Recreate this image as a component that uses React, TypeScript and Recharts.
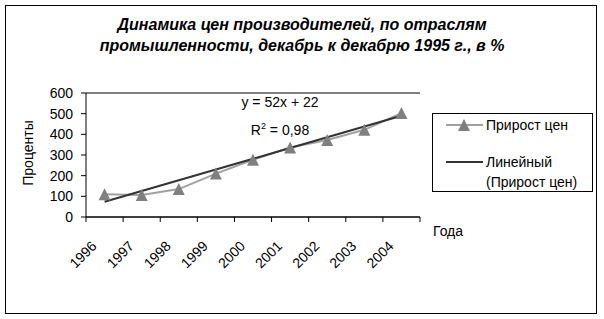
import React from 'react';
import { LineChart, Line, XAxis, YAxis, CartesianGrid } from 'recharts';

const years = ['1996', '1997', '1998', '1999', '2000', '2001', '2002', '2003', '2004'];
const priceGrowth = [110, 107, 135, 210, 277, 336, 373, 422, 503];
const linearTrend = [74, 126, 178, 230, 282, 334, 386, 438, 490];
const yTicks = [0, 100, 200, 300, 400, 500, 600];

const seriesName = 'Прирост цен';
const trendName = ['Линейный', '(Прирост цен)'];

const data = years.map((year, i) => ({
  year,
  growth: priceGrowth[i],
  trend: linearTrend[i],
}));

const FONT = '"Liberation Sans", Arial, sans-serif';
const PLOT_LEFT = 86;
const PLOT_RIGHT = 420;
const BAND = (PLOT_RIGHT - PLOT_LEFT) / years.length;

const Triangle = (props: any) => {
  const { cx, cy } = props;
  if (cx == null || cy == null) return null;
  return (
    <polygon
      points={`${cx},${cy - 6} ${cx + 6},${cy + 6} ${cx - 6},${cy + 6}`}
      fill="#808080"
      stroke="none"
    />
  );
};

const YearTick = (props: any) => {
  const { x, y, payload, index } = props;
  const left = x - BAND / 2;
  const last = index === years.length - 1;
  const ax = x - 7;
  const ay = y + 30;
  return (
    <g>
      <line x1={left} y1={y} x2={left} y2={y + 5} stroke="#000" />
      {last && <line x1={x + BAND / 2} y1={y} x2={x + BAND / 2} y2={y + 5} stroke="#000" />}
      <text
        x={ax}
        y={ay}
        textAnchor="end"
        fontSize={14}
        fontFamily={FONT}
        fill="#000"
        transform={`rotate(-45, ${ax}, ${ay})`}
      >
        {payload.value}
      </text>
    </g>
  );
};

const App: React.FC = () => {
  return (
    <div style={{ position: 'absolute', left: 0, top: 0, width: 604, height: 319, background: '#fff', fontFamily: FONT }}>
      <div
        style={{
          position: 'absolute',
          left: 5,
          top: 5,
          width: 590,
          height: 307,
          border: '1px solid #000',
        }}
      />
      <div
        style={{
          position: 'absolute',
          left: 0,
          top: 14,
          width: 604,
          textAlign: 'center',
          fontSize: 16,
          fontWeight: 'bold',
          fontStyle: 'italic',
          lineHeight: '21px',
        }}
      >
        Динамика цен производителей, по отраслям
        <br />
        промышленности, декабрь к декабрю 1995 г., в %
      </div>

      <div style={{ position: 'absolute', left: 0, top: 0 }}>
        <LineChart width={604} height={319} data={data} margin={{ top: 93, right: 184, bottom: 0, left: 0 }}>
          <CartesianGrid horizontal vertical={false} stroke="#000" />
          <XAxis
            dataKey="year"
            scale="band"
            height={102}
            tickLine={false}
            tickSize={0}
            tickMargin={0}
            axisLine={{ stroke: '#000' }}
            tick={<YearTick />}
            interval={0}
          />
          <YAxis
            yAxisId="left"
            width={86}
            domain={[0, 600]}
            ticks={yTicks}
            interval={0}
            tickSize={5}
            tickMargin={8}
            axisLine={{ stroke: '#000' }}
            tickLine={{ stroke: '#000' }}
            tick={{ fill: '#000', fontSize: 14, fontFamily: FONT }}
          />
          <YAxis
            yAxisId="right"
            orientation="right"
            width={0}
            domain={[0, 600]}
            tick={false}
            tickLine={false}
            axisLine={{ stroke: '#808080' }}
          />
          <Line
            yAxisId="left"
            dataKey="growth"
            name={seriesName}
            stroke="#a0a0a0"
            strokeWidth={2}
            dot={<Triangle />}
            activeDot={false}
            isAnimationActive={false}
          />
          <Line
            yAxisId="left"
            dataKey="trend"
            name={trendName.join(' ')}
            stroke="#333333"
            strokeWidth={2}
            dot={false}
            activeDot={false}
            isAnimationActive={false}
          />
        </LineChart>
      </div>

      <div
        style={{
          position: 'absolute',
          left: 28,
          top: 153,
          fontSize: 14,
          transform: 'translate(-50%, -50%) rotate(-90deg)',
          whiteSpace: 'nowrap',
        }}
      >
        Проценты
      </div>

      <div style={{ position: 'absolute', left: 200, width: 160, top: 93, textAlign: 'center', fontSize: 14, lineHeight: '18px' }}>
        y = 52x + 22
      </div>
      <div style={{ position: 'absolute', left: 200, width: 160, top: 117, textAlign: 'center', fontSize: 14, lineHeight: '18px' }}>
        R<sup style={{ fontSize: 9 }}>2</sup> = 0,98
      </div>

      <div style={{ position: 'absolute', left: 433, top: 223, fontSize: 14 }}>Года</div>

      <div
        style={{
          position: 'absolute',
          left: 432,
          top: 113,
          width: 159,
          height: 77,
          border: '1px solid #000',
          fontSize: 14,
        }}
      >
        <svg width={40} height={20} style={{ position: 'absolute', left: 12, top: 1 }}>
          <line x1={1} y1={10} x2={38} y2={10} stroke="#a0a0a0" strokeWidth={2} />
          <polygon points="19,4 25,16 13,16" fill="#808080" />
        </svg>
        <div style={{ position: 'absolute', left: 53, top: 2, lineHeight: '18px' }}>{seriesName}</div>
        <svg width={40} height={20} style={{ position: 'absolute', left: 12, top: 38 }}>
          <line x1={1} y1={10} x2={38} y2={10} stroke="#333333" strokeWidth={2} />
        </svg>
        <div style={{ position: 'absolute', left: 53, top: 38, lineHeight: '20px' }}>
          {trendName[0]}
          <br />
          {trendName[1]}
        </div>
      </div>
    </div>
  );
};

export default App;
